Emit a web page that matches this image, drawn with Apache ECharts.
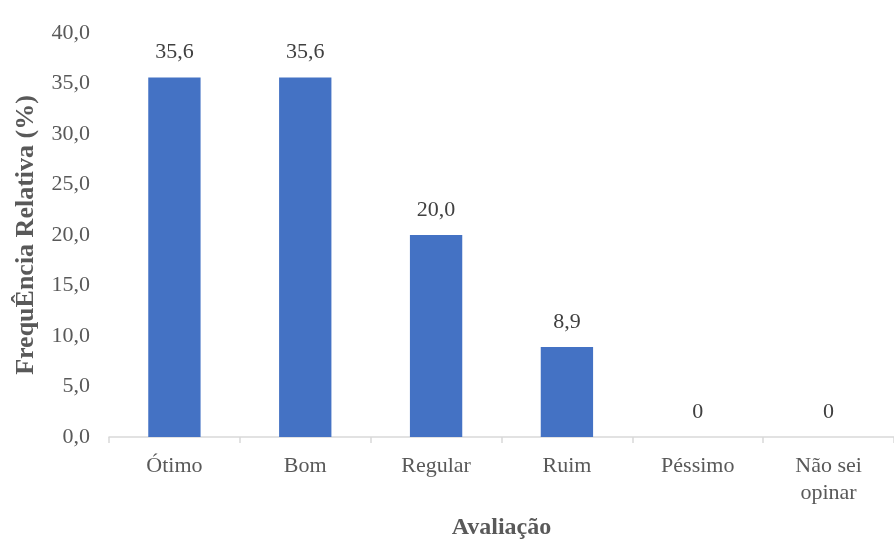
<!DOCTYPE html>
<html><head><meta charset="utf-8">
<script src="https://cdn.jsdelivr.net/npm/echarts@6/dist/echarts.min.js"></script>
<style>html,body{margin:0;padding:0;background:#fff}#c{width:894px;height:545px}</style>
</head><body><div id="c"></div>
<script>
var categories = ['Ótimo', 'Bom', 'Regular', 'Ruim', 'Péssimo', 'Não sei\nopinar'];
var values = [35.6, 35.6, 20.0, 8.9, 0, 0];
var yTicks = [0, 5, 10, 15, 20, 25, 30, 35, 40];

var chart = echarts.init(document.getElementById('c'));
var font = '"Liberation Serif", "Times New Roman", serif';
chart.setOption({
  animation: false,
  grid: { left: 109, right: -11, top: 33, bottom: 107 },
  xAxis: {
    type: 'category',
    data: categories,
    name: 'Avaliação',
    nameLocation: 'middle',
    nameGap: 79,
    nameTextStyle: { fontFamily: font, fontSize: 24, fontWeight: 'bold', color: '#595959' },
    axisLine: { lineStyle: { color: '#d9d9d9', width: 1.5 } },
    axisTick: { show: true, length: 6, lineStyle: { color: '#d9d9d9', width: 1.5 } },
    axisLabel: { fontFamily: font, fontSize: 22, color: '#595959', margin: 16, lineHeight: 27, verticalAlign: 'top' }
  },
  yAxis: {
    type: 'value',
    min: yTicks[0],
    max: yTicks[yTicks.length - 1],
    interval: 5,
    name: 'FrequÊncia Relativa (%)',
    nameLocation: 'middle',
    nameGap: 70,
    nameTextStyle: { fontFamily: font, fontSize: 26, fontWeight: 'bold', color: '#595959' },
    axisLine: { show: false },
    axisTick: { show: false },
    splitLine: { show: false },
    axisLabel: {
      fontFamily: font, fontSize: 22, color: '#595959', margin: 19,
      formatter: function (v) { return v.toFixed(1).replace('.', ','); }
    }
  },
  series: [{
    type: 'bar',
    data: values,
    barWidth: '40%',
    itemStyle: { color: '#4472c4' },
    label: {
      show: true,
      position: 'top',
      distance: 14,
      fontFamily: font,
      fontSize: 22,
      color: '#404040',
      formatter: function (p) { return p.value === 0 ? '0' : p.value.toFixed(1).replace('.', ','); }
    }
  }]
});
</script></body></html>
